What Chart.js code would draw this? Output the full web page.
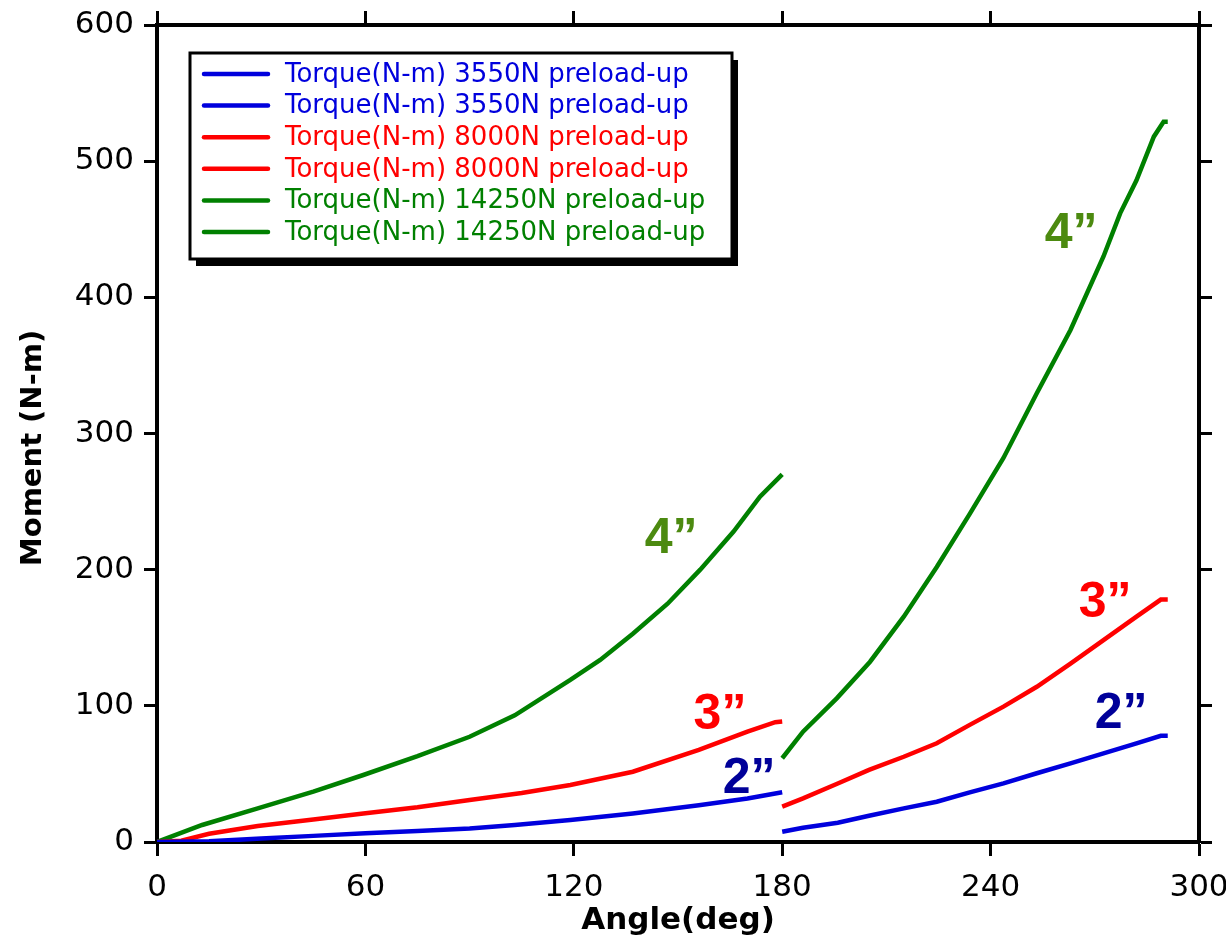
<!DOCTYPE html>
<html lang="en">

<head>
    <meta charset="UTF-8">
    <title>Moment vs Angle</title>
    <script src="https://cdn.jsdelivr.net/npm/chart.js"></script>
    <style>
        body { margin: 0; background: #fff; }
        .graph { width: 1226px; height: 947px; }
    </style>
</head>

<body>
    <div class="graph">
        <canvas id="chartMoment" width="1226" height="947"></canvas>
    </div>
</body>

</html>
<script>
    // 3550N preload, first and second run
    var angle3550a = [0, 15, 30, 45, 60, 75, 90, 103, 119, 137, 156, 170, 180];
    var torque3550a = [0, 0.5, 2.5, 4.5, 6.4, 8, 10, 12.5, 16.2, 21, 27, 32, 36.5];
    var angle3550b = [180, 186, 196, 205, 215, 224.5, 234, 243.7, 253.3, 263, 272.5, 282, 289, 291];
    var torque3550b = [7.5, 10.5, 14.2, 19.3, 24.7, 29.6, 36.5, 43, 50.5, 57.8, 65.1, 72.5, 78, 78];

    // 8000N preload
    var angle8000a = [0, 7, 15, 29, 45, 59.4, 75, 90, 105, 119, 137, 156, 170, 178, 180];
    var torque8000a = [0, 1, 6, 11.7, 16.5, 21, 25.5, 30.8, 36, 41.9, 51.6, 67.6, 81, 88, 88.5];
    var angle8000b = [180, 186, 196, 205, 215, 224.5, 234, 243.7, 253.3, 263, 272.5, 282, 289, 291];
    var torque8000b = [26, 32, 43, 53, 62.6, 72.5, 86, 99.4, 114, 131, 148.3, 165.5, 178, 178];

    // 14250N preload
    var angle14250a = [0, 13, 29, 45, 59.4, 75, 90, 103, 119, 127.6, 137, 147, 156.4, 166, 173.6, 180];
    var torque14250a = [0, 12.5, 24.7, 37, 49.2, 63, 77.3, 93, 119, 133.7, 153, 175, 200, 228, 253.6, 270];
    var angle14250b = [180, 186, 195.7, 205.3, 215, 224.5, 234, 243.7, 253.3, 263, 272.5, 277.3, 282, 287, 289.8, 291];
    var torque14250b = [61.5, 81, 105.5, 132.4, 165.5, 202, 241, 282, 329.5, 376, 430, 461.7, 486, 518, 529, 529];

    // rótulos dos eixos
    var ticksAngle = [0, 60, 120, 180, 240, 300];
    var ticksMoment = [0, 100, 200, 300, 400, 500, 600];

    // anotações de diâmetro
    var notaTexto = ['4\u201D', '4\u201D', '3\u201D', '3\u201D', '2\u201D', '2\u201D'];
    var notaX = [148, 263.2, 162.1, 273, 170.5, 277.6];
    var notaY = [212, 436, 83, 165, 36, 84];
    var notaCor = ['#4C8A10', '#4C8A10', '#FF0000', '#FF0000', '#000099', '#000099'];

    var azul = '#0000DD', vermelho = '#FF0000', verde = '#008000';

    function pontos(xs, ys) {
        return xs.map(function (x, i) { return { x: x, y: ys[i] }; });
    }

    function serie(label, xs, ys, cor) {
        return {
            label: label,
            data: pontos(xs, ys),
            borderColor: cor,
            backgroundColor: cor,
            borderWidth: 4.5,
            pointRadius: 0,
            tension: 0,
            fill: false
        };
    }

    var fonteTicks = { family: 'DejaVu Sans', size: 31 };

    // legenda desenhada dentro da área do gráfico, com sombra
    var legendaCaixa = {
        id: 'legendaCaixa',
        afterDraw: function (chart) {
            var c = chart.ctx;
            var x0 = 190, y0 = 53, w = 542, h = 206;
            c.save();
            c.fillStyle = '#000';
            c.fillRect(x0 + 6, y0 + 7, w, h);
            c.fillStyle = '#fff';
            c.fillRect(x0, y0, w, h);
            c.lineWidth = 3;
            c.strokeStyle = '#000';
            c.strokeRect(x0, y0, w, h);
            c.font = '26px "DejaVu Sans"';
            c.textBaseline = 'middle';
            chart.data.datasets.forEach(function (ds, i) {
                var y = 74 + i * 31.6;
                c.strokeStyle = ds.borderColor;
                c.lineWidth = 4.5;
                c.lineCap = 'round';
                c.beginPath();
                c.moveTo(204, y);
                c.lineTo(268, y);
                c.stroke();
                c.fillStyle = ds.borderColor;
                c.fillText(ds.label, 285, y + 1);
            });
            c.restore();
        }
    };

    // textos 2", 3", 4" posicionados pelas escalas, e título do eixo Y
    var notas = {
        id: 'notas',
        afterDatasetsDraw: function (chart) {
            var c = chart.ctx;
            var sx = chart.scales.x, sy = chart.scales.y;
            c.save();
            c.font = 'bold 50px "Liberation Sans"';
            c.textAlign = 'center';
            c.textBaseline = 'alphabetic';
            notaTexto.forEach(function (t, i) {
                c.fillStyle = notaCor[i];
                c.fillText(t, sx.getPixelForValue(notaX[i]), sy.getPixelForValue(notaY[i]));
            });
            c.restore();

            c.save();
            c.translate(33, 448);
            c.rotate(-Math.PI / 2);
            c.font = 'bold 29px "DejaVu Sans"';
            c.fillStyle = '#000';
            c.textAlign = 'center';
            c.textBaseline = 'middle';
            c.fillText('Moment (N-m)', 0, 0);
            c.restore();
        }
    };

    function eixo(pos, min, max, lista, mostrarRotulos, tamanho, titulo) {
        var horizontal = (pos === 'bottom' || pos === 'top');
        return {
            type: 'linear',
            position: pos,
            min: min,
            max: max,
            afterBuildTicks: function (s) {
                s.ticks = lista.map(function (v) { return { value: v }; });
            },
            ticks: {
                display: mostrarRotulos,
                color: '#000',
                font: fonteTicks,
                padding: horizontal ? 13 : 10,
                maxRotation: 0
            },
            grid: {
                drawOnChartArea: false,
                drawTicks: true,
                tickLength: horizontal ? 14 : 13,
                tickWidth: 3,
                tickColor: '#000'
            },
            border: { display: true, width: 4, color: '#000' },
            title: titulo ? {
                display: true,
                text: titulo,
                color: '#000',
                font: { family: 'DejaVu Sans', size: 31, weight: 'bold', lineHeight: 1.45 }
            } : { display: false },
            afterFit: function (s) {
                if (horizontal) s.height = tamanho; else s.width = tamanho;
                s.paddingLeft = 0;
                s.paddingRight = 0;
                s.paddingTop = 0;
                s.paddingBottom = 0;
            }
        };
    }

    var ctxMoment = document.getElementById('chartMoment').getContext('2d');
    var configMoment = {
        type: 'line',
        data: {
            datasets: [
                serie('Torque(N-m) 3550N preload-up', angle3550a, torque3550a, azul),
                serie('Torque(N-m) 3550N preload-up', angle3550b, torque3550b, azul),
                serie('Torque(N-m) 8000N preload-up', angle8000a, torque8000a, vermelho),
                serie('Torque(N-m) 8000N preload-up', angle8000b, torque8000b, vermelho),
                serie('Torque(N-m) 14250N preload-up', angle14250a, torque14250a, verde),
                serie('Torque(N-m) 14250N preload-up', angle14250b, torque14250b, verde)
            ]
        },
        options: {
            responsive: false,
            animation: false,
            layout: { padding: 0 },
            plugins: {
                legend: { display: false },
                tooltip: { enabled: false }
            },
            scales: {
                x: eixo('bottom', 0, 300, ticksAngle, true, 105, 'Angle(deg)'),
                xTop: eixo('top', 0, 300, ticksAngle, false, 25, null),
                y: eixo('left', 0, 600, ticksMoment, true, 157, null),
                yRight: eixo('right', 0, 600, ticksMoment, false, 27, null)
            }
        },
        plugins: [notas, legendaCaixa]
    };
    var grafico = new Chart(ctxMoment, configMoment);
</script>
